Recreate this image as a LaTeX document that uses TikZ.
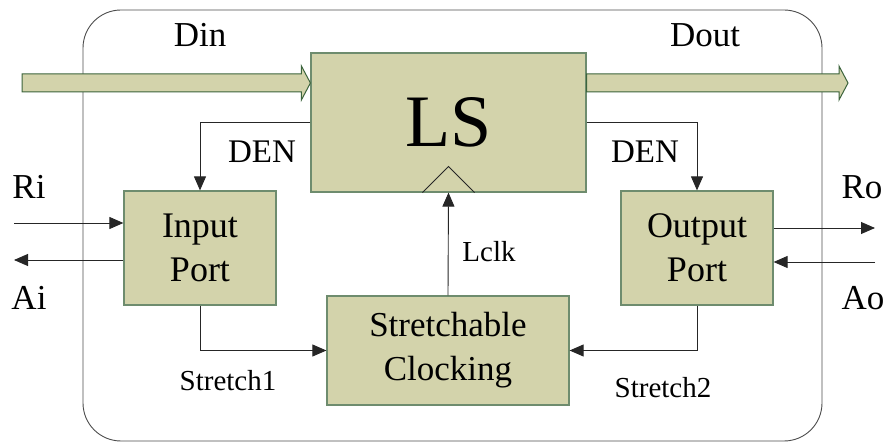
\documentclass[tikz,border=0pt]{standalone}
\usepackage{fontspec}
\setmainfont{Liberation Serif}
\usetikzlibrary{arrows.meta,calc}

\definecolor{boxfill}{RGB}{211,211,171}
\definecolor{boxedge}{RGB}{110,140,110}
\definecolor{busedge}{RGB}{60,100,60}

\begin{document}
\begin{tikzpicture}[x=1pt,y=-1pt,
  block/.style={draw=boxedge, fill=boxfill, line width=1.2pt, inner sep=0pt, align=center},
  sig/.style={draw=black!85, line width=0.9pt, -{Triangle[length=14pt,width=12pt]}},
  bus/.style={draw=busedge, fill=boxfill, line width=1pt, line join=miter},
  lbl/.style={inner sep=0pt, anchor=base, font=\fontsize{35}{40}\selectfont},
  smalllbl/.style={inner sep=0pt, anchor=base, font=\fontsize{29}{32}\selectfont}
]
\useasboundingbox (0,0) rectangle (887,443);

% enclosing module outline
\draw[black!70, line width=0.9pt, rounded corners=38pt] (83,10) rectangle (822,441);

% functional blocks
\node[block, minimum width=275pt, minimum height=139pt,
      font=\fontsize{74}{80}\selectfont] (LS) at (448.5,122.5) {LS};
\node[block, minimum width=152pt, minimum height=114pt,
      font=\fontsize{36}{44}\selectfont] (IP) at (200,248) {Input\\Port};
\node[block, minimum width=152pt, minimum height=114pt,
      font=\fontsize{36}{44}\selectfont] (OP) at (697,248) {Output\\Port};
\node[block, minimum width=242pt, minimum height=109pt,
      font=\fontsize{35}{44}\selectfont] (SC) at (448,350.5) {Stretchable\\Clocking};

% clock input marker of the latch stage
\draw[black!85, line width=0.9pt]
  ($(LS.south)+(-26,0)$) -- ($(LS.south)+(0,-26)$) -- ($(LS.south)+(26,0)$);

% data buses
\coordinate (busy) at (0,83);
\coordinate (dinS) at (22,83);
\coordinate (doutE) at (848,83);
\draw[bus] ($(dinS)+(0,-9)$) -- ($(LS.west|-busy)+(-9,-9)$) -- ($(LS.west|-busy)+(-9,-17)$)
  -- (LS.west|-busy) -- ($(LS.west|-busy)+(-9,17)$) -- ($(LS.west|-busy)+(-9,9)$)
  -- ($(dinS)+(0,9)$) -- cycle;
\draw[bus] ($(LS.east|-busy)+(0,-9)$) -- ($(doutE)+(-9,-9)$) -- ($(doutE)+(-9,-17)$)
  -- (doutE) -- ($(doutE)+(-9,17)$) -- ($(doutE)+(-9,9)$)
  -- ($(LS.east|-busy)+(0,9)$) -- cycle;

% control signals
\draw[sig] (LS.west) -| (IP.north);
\draw[sig] (LS.east) -| (OP.north);
\draw[sig] (SC.north) -- (LS.south);
\draw[sig] (IP.south) |- (SC.west);
\draw[sig] (OP.south) |- (SC.east);

% handshake signals
\coordinate (ri) at (14,223);
\coordinate (ai) at (14,260);
\coordinate (ro) at (875,228);
\coordinate (ao) at (875,262);
\draw[sig] (ri) -- (IP.west|-ri);
\draw[sig] (IP.west|-ai) -- (ai);
\draw[sig] (OP.east|-ro) -- (ro);
\draw[sig] (ao) -- (OP.east|-ao);

% labels
\node[lbl] (tdin) at (200,47) {Din};
\node[lbl] (tdout) at (705,47) {Dout};
\node[lbl, font=\fontsize{33}{36}\selectfont] (tden1) at (262,163) {DEN};
\node[lbl, font=\fontsize{33}{36}\selectfont] (tden2) at (645,163) {DEN};
\node[lbl] (tri) at (29,199) {Ri};
\node[lbl] (tai) at (29,310) {Ai};
\node[lbl] (tro) at (862,199) {Ro};
\node[lbl] (tao) at (863,310) {Ao};
\node[smalllbl] (tlclk) at (489,262) {Lclk};
\node[smalllbl] (ts1) at (228,391) {Stretch1};
\node[smalllbl] (ts2) at (663,398) {Stretch2};
\end{tikzpicture}
\end{document}
